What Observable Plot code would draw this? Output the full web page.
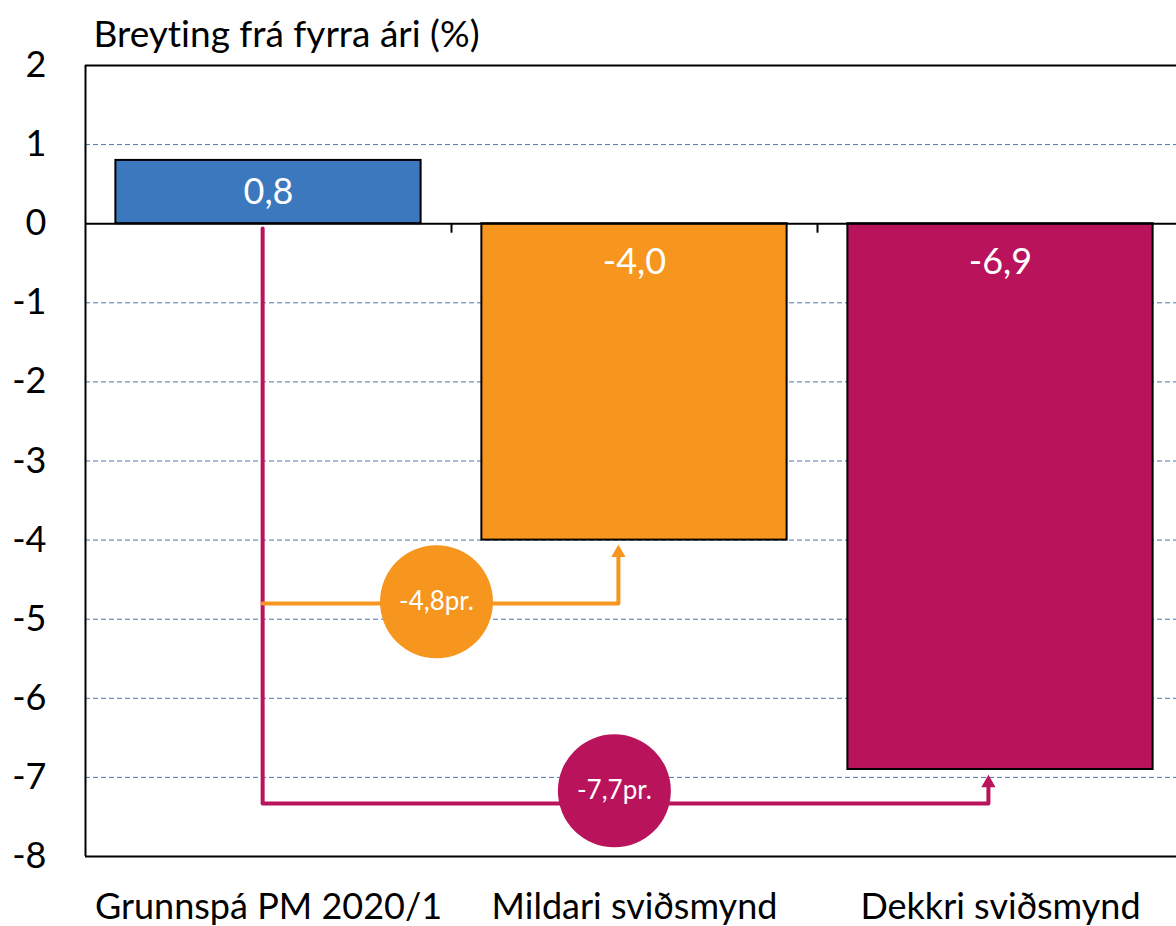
<!DOCTYPE html>
<html>
<head>
<meta charset="utf-8">
<script src="https://cdn.jsdelivr.net/npm/d3@7"></script>
<script src="https://cdn.jsdelivr.net/npm/@observablehq/plot@0.6"></script>
<style>
  html, body { margin: 0; padding: 0; background: #fff; overflow: hidden; }
  svg { display: block; }
  svg text { font-variant-ligatures: none; font-feature-settings: "liga" 0; }
</style>
</head>
<body>
<div id="chart"></div>
<script>
// ---- data ----
const title = "Breyting frá fyrra ári (%)";
const categories = ["Grunnspá PM 2020/1", "Mildari sviðsmynd", "Dekkri sviðsmynd"];
const values = [0.8, -4.0, -6.9];
const valueLabels = ["0,8", "-4,0", "-6,9"];
const colors = ["#3b78bd", "#f6961f", "#b8135b"];
const yTicks = [2, 1, 0, -1, -2, -3, -4, -5, -6, -7, -8];
const gridValues = [1, -1, -2, -3, -4, -5, -6, -7];
// difference annotations (category index units on x, % on y)
const diffLabels = ["-4,8pr.", "-7,7pr."];
const diffColors = ["#f6961f", "#b8135b"];
const diffBubbleX = [0.459, 0.945];
const diffBubbleY = [-4.78, -7.17];
const orangePathX = [-0.016, 0.956, 0.956];
const orangePathY = [-4.8, -4.8, -4.2];
const magentaPathX = [-0.016, -0.016, 1.967, 1.967];
const magentaPathY = [-0.06, -7.33, -7.33, -7.1];
const arrowTipX = [0.956, 1.967];
const arrowTipY = [-4.06, -6.97];

// ---- tables ----
const bars = categories.map((c, i) => ({i, c, v: values[i], label: valueLabels[i], color: colors[i]}));
const orangePath = orangePathX.map((x, k) => ({x, y: orangePathY[k]}));
const magentaPath = magentaPathX.map((x, k) => ({x, y: magentaPathY[k]}));
const bubbles = diffLabels.map((l, k) => ({x: diffBubbleX[k], y: diffBubbleY[k], label: l, color: diffColors[k]}));
const tips = arrowTipX.map((x, k) => ({x, y: arrowTipY[k], color: diffColors[k]}));

const barHalf = 0.417;
const font = "Lato, 'Open Sans', sans-serif";
const fs = 36;

const chart = Plot.plot({
  width: 1176,
  height: 926,
  marginLeft: 85,
  marginRight: 0,
  marginTop: 65,
  marginBottom: 70,
  style: {fontFamily: font, background: "#fff"},
  x: {domain: [-0.5, 2.5], range: [85, 1183], axis: null},
  y: {domain: [-8, 2], axis: null},
  marks: [
    Plot.ruleY(gridValues, {stroke: "#4f73a8", strokeWidth: 1, strokeDasharray: "5,3"}),
    Plot.rectY(bars, {
      x1: d => d.i - barHalf, x2: d => d.i + barHalf,
      y1: 0, y2: "v", fill: "color", stroke: "#000", strokeWidth: 2
    }),
    Plot.text(bars.filter(d => d.v > 0), {
      x: "i", y: d => d.v / 2, text: "label", fill: "#fff", fontSize: fs
    }),
    Plot.text(bars.filter(d => d.v <= 0), {
      x: "i", y: 0, dy: 39, text: "label", fill: "#fff", fontSize: fs
    }),
    // frame (left, top, bottom) and zero line
    Plot.ruleY([2, -8], {stroke: "#000", strokeWidth: 2}),
    Plot.ruleX([-0.5], {stroke: "#000", strokeWidth: 2}),
    Plot.ruleY([0], {stroke: "#000", strokeWidth: 2}),
    Plot.ruleX([0.5, 1.5], {y1: 0, y2: -0.12, stroke: "#000", strokeWidth: 2}),
    // arrows
    Plot.line(magentaPath, {x: "x", y: "y", stroke: "#b8135b", strokeWidth: 4, curve: "linear"}),
    Plot.line(orangePath, {x: "x", y: "y", stroke: "#f6961f", strokeWidth: 4, curve: "linear"}),
    Plot.dot(tips, {x: "x", y: "y", dy: 8, symbol: "triangle", r: 5.3, fill: "color", stroke: null}),
    Plot.dot(bubbles, {x: "x", y: "y", r: 56.5, fill: "color", stroke: null}),
    Plot.text(bubbles, {x: "x", y: "y", text: "label", fill: "#fff", fontSize: 26}),
    // axes
    Plot.axisY(yTicks, {
      tickSize: 0, tickPadding: 39, tickFormat: d => String(d),
      fontSize: fs, fill: "#000", label: null
    }),
    Plot.axisX([0, 1, 2], {
      tickSize: 0, tickPadding: 37, tickFormat: i => categories[i],
      fontSize: fs, fill: "#000", label: null
    }),
    Plot.text([title], {
      frameAnchor: "top-left", dx: 8, dy: -30, text: d => d,
      textAnchor: "start", lineAnchor: "middle", fontSize: 37, fill: "#000"
    })
  ]
});
document.getElementById("chart").appendChild(chart);
</script>
</body>
</html>
